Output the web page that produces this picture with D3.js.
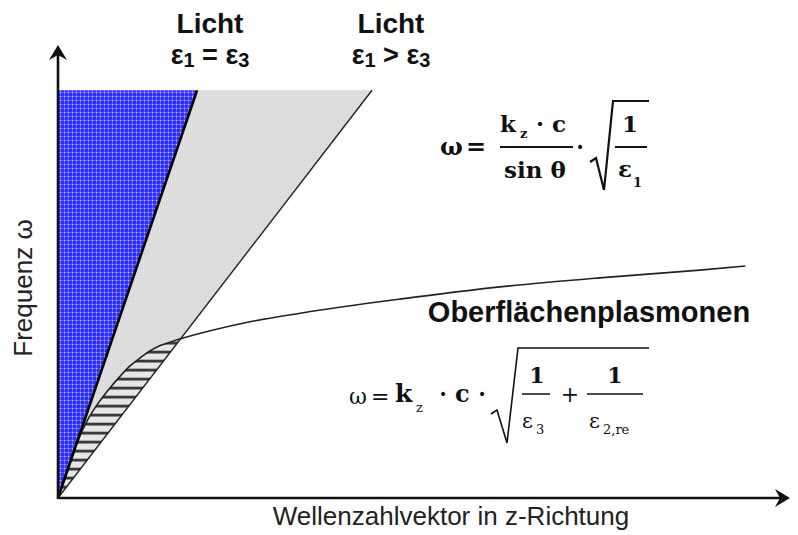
<!DOCTYPE html>
<html><head><meta charset="utf-8">
<script src="https://cdn.jsdelivr.net/npm/d3@7"></script>
<style>body{margin:0;background:#fff}svg{display:block}</style>
</head><body>
<svg id="chart" width="798" height="535"></svg>
<script>
// Dispersion sketch: wave vector k_z (x) against frequency ω (y), arbitrary units
const kRange = [0, 1];
const omegaRange = [0, 1];
const coneTopOmega = 0.9;                       // upper edge of the shaded light cones
const lightLabels = ["Licht", "Licht"];
const lightLineKAtTop = [0.19, 0.429];          // k where each light line reaches coneTopOmega
const plasmonK = [0, 0.023, 0.041, 0.057, 0.071, 0.085, 0.098, 0.112, 0.126, 0.139, 0.153, 0.169, 0.208, 0.262, 0.331, 0.467, 0.604, 0.740, 0.877, 0.939];
const plasmonOmega = [0, 0.110, 0.174, 0.214, 0.243, 0.269, 0.291, 0.309, 0.325, 0.336, 0.344, 0.352, 0.369, 0.389, 0.408, 0.439, 0.466, 0.486, 0.503, 0.512];

const svg = d3.select("#chart");
const x = d3.scaleLinear().domain(kRange).range([58, 790]);
const y = d3.scaleLinear().domain(omegaRange).range([498, 45]);

const defs = svg.append("defs");
// fine blue grid texture
const pb = defs.append("pattern").attr("id", "blueGrid").attr("patternUnits", "userSpaceOnUse").attr("width", 4).attr("height", 4);
pb.append("rect").attr("width", 4).attr("height", 4).attr("fill", "#2e2eff");
pb.append("rect").attr("width", 4).attr("height", 1).attr("fill", "#6262ff");
pb.append("rect").attr("width", 1).attr("height", 4).attr("fill", "#6262ff");
pb.append("rect").attr("width", 1).attr("height", 1).attr("fill", "#c4c4ff");
// light grey dotted texture
const pg = defs.append("pattern").attr("id", "greyDots").attr("patternUnits", "userSpaceOnUse").attr("width", 2).attr("height", 2);
pg.append("rect").attr("width", 2).attr("height", 2).attr("fill", "#e0e0e0");
pg.append("rect").attr("width", 1).attr("height", 1).attr("fill", "#d2d2d2");
// horizontal hatching
const ph = defs.append("pattern").attr("id", "hatch").attr("patternUnits", "userSpaceOnUse").attr("width", 8).attr("height", 9);
ph.append("rect").attr("width", 8).attr("height", 9).attr("fill", "#e6e6e6");
ph.append("rect").attr("width", 8).attr("height", 2).attr("fill", "#3a3a3a");
ph.append("rect").attr("y", 2).attr("width", 8).attr("height", 1).attr("fill", "#8a8a8a");
ph.append("rect").attr("y", 8).attr("width", 8).attr("height", 1).attr("fill", "#b0b0b0");

const poly = pts => "M" + pts.map(p => [x(p[0]), y(p[1])].join(",")).join("L") + "Z";

// region left of the outer light line, used to cut out the hatched band
defs.append("clipPath").attr("id", "leftOfLine2").append("path")
  .attr("d", poly([[0, 0], [lightLineKAtTop[1], coneTopOmega], [0, coneTopOmega]]));

// light cones
svg.append("path").attr("d", poly([[0, 0], [lightLineKAtTop[1], coneTopOmega], [lightLineKAtTop[0], coneTopOmega]]))
  .attr("fill", "url(#greyDots)");
svg.append("path").attr("d", poly([[0, 0], [lightLineKAtTop[0], coneTopOmega], [0, coneTopOmega]]))
  .attr("fill", "url(#blueGrid)");

const plasmon = plasmonK.map((k, i) => [k, plasmonOmega[i]]);
// hatched band between plasmon curve and outer light line
svg.append("path")
  .attr("d", d3.area().x(d => x(d[0])).y0(y(0)).y1(d => y(d[1])).curve(d3.curveMonotoneX)(plasmon))
  .attr("fill", "url(#hatch)").attr("clip-path", "url(#leftOfLine2)");

// light lines
svg.append("line").attr("x1", x(0)).attr("y1", y(0)).attr("x2", x(lightLineKAtTop[1])).attr("y2", y(coneTopOmega))
  .attr("stroke", "#222").attr("stroke-width", 1.4);
// surface plasmon dispersion
svg.append("path").attr("d", d3.line().x(d => x(d[0])).y(d => y(d[1])).curve(d3.curveMonotoneX)(plasmon))
  .attr("fill", "none").attr("stroke", "#222").attr("stroke-width", 1.6);
svg.append("line").attr("x1", x(0)).attr("y1", y(0)).attr("x2", x(lightLineKAtTop[0])).attr("y2", y(coneTopOmega))
  .attr("stroke", "#000").attr("stroke-width", 2.6);

// axes with arrowheads
const head = "M0,0L-15,-9L-10,0L-15,9Z";
svg.append("line").attr("x1", x(0)).attr("y1", y(0)).attr("x2", x(kRange[1]) - 8).attr("y2", y(0))
  .attr("stroke", "#111").attr("stroke-width", 2.6);
svg.append("line").attr("x1", x(0)).attr("y1", y(0) + 1).attr("x2", x(0)).attr("y2", y(omegaRange[1]) + 8)
  .attr("stroke", "#111").attr("stroke-width", 2.6);
svg.append("path").attr("d", head).attr("fill", "#111").attr("transform", `translate(${x(kRange[1])},${y(0)})`);
svg.append("path").attr("d", head).attr("fill", "#111").attr("transform", `translate(${x(0)},${y(omegaRange[1])}) rotate(-90)`);

// axis titles
const sans = "Liberation Sans, Arial, sans-serif";
svg.append("text").attr("x", 451).attr("y", 525).attr("text-anchor", "middle")
  .attr("font-family", sans).attr("font-size", 26).attr("fill", "#222")
  .text("Wellenzahlvektor in z-Richtung");
svg.append("text").attr("transform", "translate(32,288) rotate(-90)").attr("text-anchor", "middle")
  .attr("font-family", sans).attr("font-size", 26).attr("fill", "#222")
  .text("Frequenz ω");

// light line labels
const labelX = [210, 391];
const relSymbols = ["=", ">"];
lightLabels.forEach((t, i) => {
  svg.append("text").attr("x", labelX[i]).attr("y", 33).attr("text-anchor", "middle")
    .attr("font-family", sans).attr("font-weight", "bold").attr("font-size", 28).attr("fill", "#111").text(t);
  const eq = svg.append("text").attr("x", labelX[i]).attr("y", 64).attr("text-anchor", "middle")
    .attr("font-family", sans).attr("font-weight", "bold").attr("font-size", 27).attr("fill", "#111");
  eq.append("tspan").text("ε");
  eq.append("tspan").attr("font-size", 20).attr("dy", 3).text("1");
  eq.append("tspan").attr("dy", -3).text(" " + relSymbols[i] + " ε");
  eq.append("tspan").attr("font-size", 20).attr("dy", 3).text("3");
});

svg.append("text").attr("x", 589).attr("y", 322).attr("text-anchor", "middle")
  .attr("font-family", sans).attr("font-weight", "bold").attr("font-size", 29).attr("fill", "#111")
  .text("Oberflächenplasmonen");

// formulas
const serif = "DejaVu Serif, serif";
function txt(s, px, py, size, bold, anchor) {
  return svg.append("text").attr("x", px).attr("y", py).attr("text-anchor", anchor || "start")
    .attr("font-family", serif).attr("font-weight", bold ? "bold" : "normal")
    .attr("font-size", size).attr("fill", "#111").text(s);
}
function rule(x1, x2, yy, w) {
  svg.append("line").attr("x1", x1).attr("x2", x2).attr("y1", yy).attr("y2", yy)
    .attr("stroke", "#111").attr("stroke-width", w);
}
function radical(pts, w) {
  svg.append("path").attr("d", d3.line()(pts)).attr("fill", "none").attr("stroke", "#111")
    .attr("stroke-width", w).attr("stroke-linejoin", "miter");
}

// ω = k_z·c / sin θ · sqrt(1/ε1)
txt("ω", 440, 155, 24, true);
txt("=", 466, 155, 24, true);
txt("k", 500, 132, 23, true);
txt("z", 520, 138, 13, true);
txt("· c", 536, 132, 23, true);
rule(500, 573, 147, 2);
txt("sin θ", 535, 178, 23, true, "middle");
txt("·", 580, 155, 22, true, "middle");
radical([[590, 162], [596, 158], [604, 190], [613, 101], [649, 101]], 2.2);
txt("1", 630, 132, 23, true, "middle");
rule(615, 647, 147, 2);
txt("ε", 618, 177, 23, true);
txt("1", 633, 187, 13, true);

// ω = k_z · c · sqrt(1/ε3 + 1/ε2,re)
txt("ω", 349, 404, 22, false);
txt("=", 371, 404, 22, false);
txt("k", 395, 402, 25, true);
txt("z", 416, 412, 13, false);
txt("·", 443, 402, 22, true, "middle");
txt("c", 455, 402, 24, true);
txt("·", 482, 402, 22, true, "middle");
radical([[491, 414], [497, 410], [507, 443], [518, 348], [649, 348]], 1.6);
txt("1", 537, 383, 22, true, "middle");
rule(522, 550, 394, 1.5);
txt("ε", 522, 428, 21, false);
txt("3", 536, 434, 13, false);
txt("+", 570, 402, 22, false, "middle");
txt("1", 615, 383, 22, true, "middle");
rule(587, 643, 394, 1.5);
txt("ε", 589, 428, 21, false);
txt("2,re", 603, 434, 13, false);
</script>
</body></html>
